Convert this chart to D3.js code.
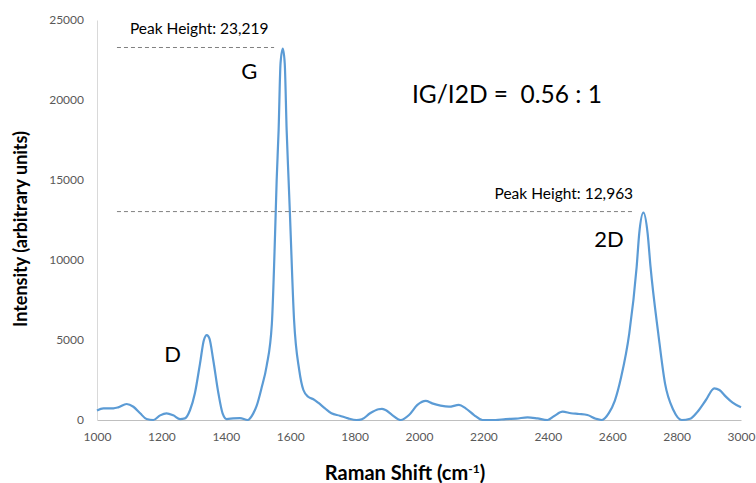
<!DOCTYPE html>
<html>
<head>
<meta charset="utf-8">
<script src="https://cdn.jsdelivr.net/npm/d3@7"></script>
<style>
  body { margin: 0; background: #fff; }
  svg { display: block; font-family: Lato, "Open Sans", sans-serif; }
</style>
</head>
<body>
<div id="chart"></div>
<script>
// Raman spectrum
const ramanShift = [1000, 1020, 1051, 1066, 1092, 1113, 1134, 1154, 1175, 1196, 1216, 1237, 1258, 1273,
  1289, 1304, 1320, 1332, 1341, 1349, 1361, 1377, 1390, 1403, 1423, 1444, 1468, 1485, 1496, 1511,
  1527, 1543, 1553, 1558, 1564, 1570, 1577, 1583, 1589, 1595, 1599, 1612, 1628, 1641, 1656, 1672,
  1687, 1708, 1728, 1754, 1780, 1806, 1822, 1848, 1874, 1885, 1896, 1917, 1943, 1969, 1995, 2021,
  2041, 2067, 2093, 2124, 2145, 2171, 2197, 2238, 2269, 2301, 2337, 2368, 2399, 2420, 2446, 2472,
  2497, 2523, 2549, 2567, 2590, 2608, 2628, 2653, 2676, 2684, 2697, 2710, 2719, 2743, 2764, 2790,
  2816, 2842, 2865, 2891, 2917, 2933, 2953, 2974, 3000];
const intensity = [600, 730, 730, 790, 1000, 830, 420, 60, 0, 290, 420, 290, 60, 100,
  625, 1670, 3540, 5000, 5300, 5100, 3750, 1670, 420, 60, 100, 120, 0, 400, 900, 2000,
  3400, 6000, 11600, 15000, 18100, 22300, 23219, 22300, 18100, 15000, 12963, 6250, 3125, 1875, 1450, 1300,
  1080, 730, 420, 270, 100, 0, 40, 420, 670, 700, 620, 310, 0, 310, 940, 1190,
  1040, 900, 830, 940, 730, 310, 0, 0, 60, 80, 170, 100, 0, 250, 520, 420,
  375, 310, 80, 0, 450, 1200, 2700, 5420, 9580, 11670, 12963, 11670, 9580, 5420, 2290, 625,
  0, 80, 520, 1250, 1980, 1875, 1460, 1080, 790];

const xTicks = [1000, 1200, 1400, 1600, 1800, 2000, 2200, 2400, 2600, 2800, 3000];
const yTicks = [0, 5000, 10000, 15000, 20000, 25000];

// peak markers: dashed line from start to end at the peak height
const peakNames = ["G", "2D"];
const peakHeights = [23219, 12963];
const peakLineStart = [1062, 1062];
const peakLineEnd = [1550, 2665];
const ratioText = "IG/I2D =  0.56 : 1";

// band labels
const bandLabels = ["D", "G", "2D"];
const bandLabelX = [1235, 1473, 2590];
const bandLabelY = [3600, 21300, 10800];

const width = 756, height = 483;
const margin = { top: 20, right: 15, bottom: 63, left: 97 };

const svg = d3.select("#chart").append("svg")
  .attr("width", width)
  .attr("height", height);

const x = d3.scaleLinear().domain([1000, 3000]).range([margin.left, width - margin.right]);
const y = d3.scaleLinear().domain([0, 25000]).range([height - margin.bottom, margin.top]);

// axes
const xAxis = svg.append("g")
  .attr("transform", `translate(0,${y(0)})`)
  .call(d3.axisBottom(x).tickValues(xTicks).tickSize(0).tickPadding(12).tickFormat(d3.format("d")));
xAxis.select(".domain").attr("stroke", "#bfbfbf");

const yAxis = svg.append("g")
  .attr("transform", `translate(${margin.left},0)`)
  .call(d3.axisLeft(y).tickValues(yTicks).tickSize(0).tickPadding(13).tickFormat(d3.format("d")));
yAxis.select(".domain").attr("stroke", "#d9d9d9");

svg.selectAll(".tick text")
  .attr("fill", "#595959")
  .style("font-size", "12px")
  .style("font-family", "Lato, sans-serif");

// spectrum
const pts = ramanShift.map((r, i) => [r, intensity[i]]);
const line = d3.line()
  .x(d => x(d[0]))
  .y(d => y(d[1]))
  .curve(d3.curveMonotoneX);

svg.append("path")
  .datum(pts)
  .attr("fill", "none")
  .attr("stroke", "#5b9bd5")
  .attr("stroke-width", 2.2)
  .attr("stroke-linejoin", "round")
  .attr("d", line);

// dashed peak lines
svg.selectAll(".peak-line")
  .data(peakHeights)
  .enter()
  .append("line")
  .attr("class", "peak-line")
  .attr("x1", (d, i) => x(peakLineStart[i]))
  .attr("x2", (d, i) => x(peakLineEnd[i]))
  .attr("y1", d => y(d) - 1)
  .attr("y2", d => y(d) - 1)
  .attr("stroke", "#808080")
  .attr("stroke-width", 1)
  .attr("stroke-dasharray", "4,3");

// peak height captions
svg.selectAll(".peak-caption")
  .data(peakHeights)
  .enter()
  .append("text")
  .attr("class", "peak-caption")
  .attr("x", (d, i) => i === 0 ? x(peakLineStart[i]) + 13 : x(peakLineEnd[i]))
  .attr("y", d => y(d) - 14)
  .attr("text-anchor", (d, i) => i === 0 ? "start" : "end")
  .style("font-size", "15.5px")
  .attr("fill", "#000")
  .text(d => "Peak Height: " + d3.format(",")(d));

// band labels
svg.selectAll(".band")
  .data(bandLabels)
  .enter()
  .append("text")
  .attr("class", "band")
  .attr("x", (d, i) => x(bandLabelX[i]))
  .attr("y", (d, i) => y(bandLabelY[i]))
  .attr("text-anchor", "middle")
  .style("font-size", "22px")
  .attr("fill", "#000")
  .text(d => d);

// ratio
svg.append("text")
  .attr("x", 412)
  .attr("y", 103)
  .style("font-size", "24.5px")
  .attr("fill", "#000")
  .attr("xml:space", "preserve")
  .text(ratioText);

// axis titles
const xTitle = svg.append("text")
  .attr("x", 405)
  .attr("y", 480)
  .attr("text-anchor", "middle")
  .style("font-size", "20px")
  .style("font-weight", "bold")
  .attr("fill", "#000");
xTitle.append("tspan").text("Raman Shift (cm");
xTitle.append("tspan").attr("dy", -7).style("font-size", "12px").text("-1");
xTitle.append("tspan").attr("dy", 7).text(")");

svg.append("text")
  .attr("transform", "translate(27,229) rotate(-90)")
  .attr("text-anchor", "middle")
  .style("font-size", "18px")
  .style("font-weight", "bold")
  .attr("fill", "#000")
  .text("Intensity (arbitrary units)");
</script>
</body>
</html>
